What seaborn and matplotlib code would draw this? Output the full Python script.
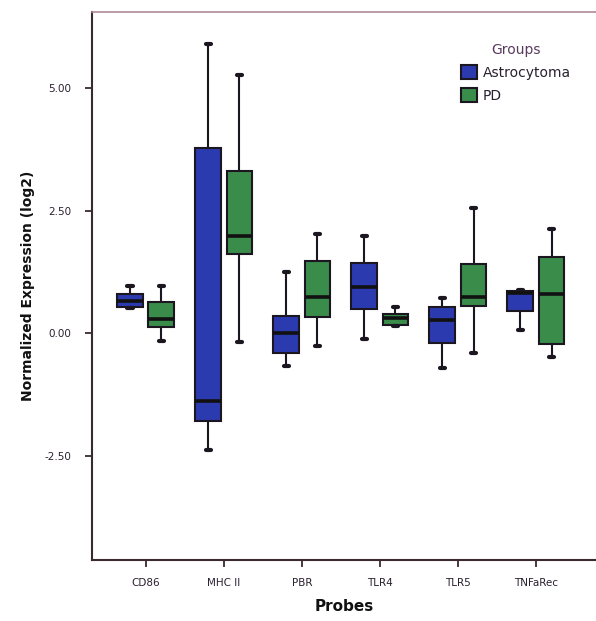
import numpy as np
import pandas as pd
import matplotlib
matplotlib.use("Agg")
import matplotlib.pyplot as plt
import seaborn as sns
from matplotlib.patches import Patch

# ---- data ----
probes = ["CD86", "MHC II", "PBR", "TLR4", "TLR5", "TNFaRec"]
groups = ["Astrocytoma", "PD"]

astro_lo  = [0.52, -2.38, -0.67, -0.12, -0.71, 0.07]
astro_q1  = [0.54, -1.79, -0.41,  0.49, -0.20, 0.45]
astro_med = [0.65, -1.38,  0.00,  0.93,  0.26, 0.82]
astro_q3  = [0.79,  3.78,  0.35,  1.42,  0.53, 0.85]
astro_hi  = [0.97,  5.89,  1.24,  1.99,  0.71, 0.87]

pd_lo  = [-0.16, -0.18, -0.26, 0.15, -0.41, -0.49]
pd_q1  = [ 0.12,  1.61,  0.33, 0.17,  0.55, -0.22]
pd_med = [ 0.28,  1.99,  0.73, 0.30,  0.73,  0.79]
pd_q3  = [ 0.63,  3.31,  1.46, 0.39,  1.40,  1.55]
pd_hi  = [ 0.97,  5.26,  2.03, 0.53,  2.56,  2.13]

yticks = [-2.5, 0.0, 2.5, 5.0]
ytick_labels = ["-2.50", "0.00", "2.50", "5.00"]

# five-number summaries -> rows (min, q1, median, q3, max reproduce the boxes exactly)
rows = []
for g, (lo, q1, md, q3, hi) in zip(groups, [(astro_lo, astro_q1, astro_med, astro_q3, astro_hi),
                                          (pd_lo, pd_q1, pd_med, pd_q3, pd_hi)]):
    for i, p in enumerate(probes):
        for v in (lo[i], q1[i], md[i], q3[i], hi[i]):
            rows.append({"Probes": p, "Groups": g, "value": v})
df = pd.DataFrame(rows)

blue = "#2C3AB0"
green = "#3A8C4A"
line_c = "#1c1620"
text_c = "#2a2030"

sns.set_style("white")
plt.rcParams["font.family"] = ["DejaVu Sans"]

fig = plt.figure(figsize=(5.96, 6.21), dpi=100)
ax = fig.add_axes([92/596, 1 - 560/621, 1 - 92/596, (560 - 12)/621])

sns.boxplot(data=df, x="Probes", y="value", hue="Groups", order=probes, hue_order=groups,
            palette=[blue, green], whis=(0, 100), width=0.8, gap=0.17,
            saturation=1, linewidth=1.5, linecolor=line_c, showfliers=False,
            capwidths=0.07,
            medianprops={"linewidth": 2.6, "color": "#111111"},
            capprops={"linewidth": 3.0},
            ax=ax)

ax.set_xlim(-0.69, 5.77)
ax.set_ylim(-4.63, 6.55)
ax.set_yticks(yticks)
ax.set_yticklabels(ytick_labels)

for s in ["left", "bottom"]:
    ax.spines[s].set_color("#3a2a30")
    ax.spines[s].set_linewidth(1.5)
ax.spines["top"].set_color("#b08a9a")
ax.spines["top"].set_linewidth(1.2)
ax.spines["right"].set_visible(False)

ax.tick_params(axis="both", which="both", direction="out", length=5, width=1.3,
               color="#3a2a30", labelsize=7.5, labelcolor=text_c, left=True, bottom=True)
ax.tick_params(axis="y", pad=10)
ax.tick_params(axis="x", pad=8)

ax.set_xlabel("Probes", fontsize=11, fontweight="bold", color="#111111", labelpad=8)
ax.set_ylabel("Normalized Expression (log2)", fontsize=10, fontweight="bold", color="#111111", labelpad=7)

if ax.get_legend() is not None:
    ax.get_legend().remove()
handles = [Patch(facecolor=blue, edgecolor=line_c, linewidth=1.5),
           Patch(facecolor=green, edgecolor=line_c, linewidth=1.5)]
leg = ax.legend(handles, groups, title="Groups", frameon=False, loc="upper left",
                bbox_to_anchor=((455 - 92) / 504, 1 - (37 - 12) / 548),
                fontsize=10, title_fontsize=10, handlelength=1.15, handleheight=1.2,
                handletextpad=0.45, labelspacing=0.6, borderaxespad=0)
for t in leg.get_texts():
    t.set_color(text_c)
leg.get_title().set_color("#5a3a5e")

fig.savefig("out.png", dpi=100)
